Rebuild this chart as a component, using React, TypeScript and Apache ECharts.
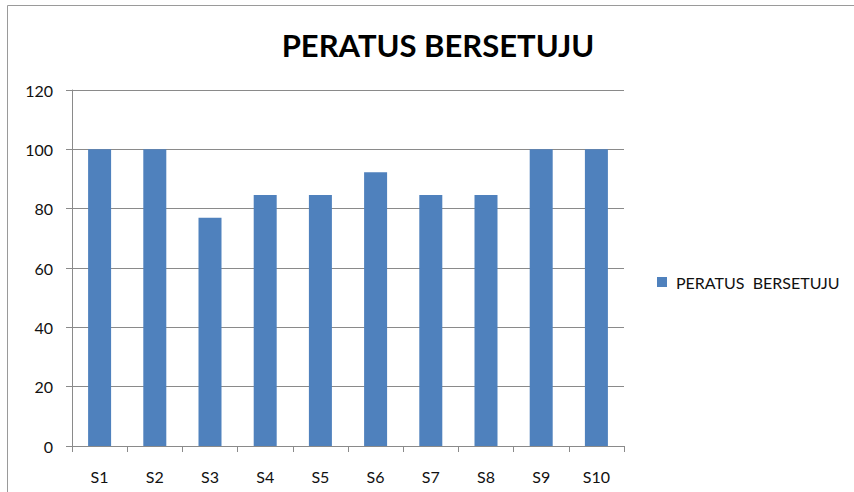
import React, { useEffect, useRef } from "react";
import * as echarts from "echarts";

const titleText = "PERATUS BERSETUJU";
const seriesName = "PERATUS  BERSETUJU";
const categories = ["S1", "S2", "S3", "S4", "S5", "S6", "S7", "S8", "S9", "S10"];
const values = [100, 100, 76.9, 84.6, 84.6, 92.3, 84.6, 84.6, 100, 100];
const yMin = 0;
const yMax = 120;
const yStep = 20;

const FONT = "Lato, 'Open Sans', sans-serif";

export default function App() {
  const ref = useRef<HTMLDivElement>(null);
  useEffect(() => {
    if (!ref.current) return;
    const chart = echarts.init(ref.current, null, { renderer: "svg" });
    chart.setOption({
      animation: false,
      backgroundColor: "#ffffff",
      title: {
        text: titleText,
        left: 438,
        textAlign: "center",
        top: 29,
        padding: 0,
        textStyle: { fontFamily: FONT, fontWeight: "bold", fontSize: 31, color: "#000" },
      },
      legend: {
        orient: "vertical",
        left: 657,
        top: 274,
        padding: 0,
        itemWidth: 10,
        itemHeight: 10,
        itemGap: 6,
        icon: "rect",
        textStyle: { fontFamily: FONT, fontSize: 16, color: "#111", padding: [0, 0, 0, 4] },
        data: [seriesName],
      },
      graphic: [
        {
          type: "rect",
          shape: { x: 7.5, y: 5.5, width: 900, height: 600 },
          style: { fill: "none", stroke: "#9a9a9a", lineWidth: 1 },
          silent: true,
          z: -1,
        },
      ],
      grid: { left: 72, right: 230, top: 90, bottom: 46 },
      xAxis: {
        type: "category",
        data: categories,
        axisLine: { lineStyle: { color: "#8a8a8a", width: 1 } },
        axisTick: { show: true, length: 6, lineStyle: { color: "#8a8a8a" } },
        axisLabel: { fontFamily: FONT, fontSize: 16, color: "#111", margin: 22 },
      },
      yAxis: {
        type: "value",
        min: yMin,
        max: yMax,
        interval: yStep,
        axisLine: { show: true, lineStyle: { color: "#8a8a8a", width: 1 } },
        axisTick: { show: true, length: 6, lineStyle: { color: "#8a8a8a" } },
        axisLabel: { fontFamily: FONT, fontSize: 16, color: "#111", margin: 19 },
        splitLine: { show: true, lineStyle: { color: "#8a8a8a", width: 1 } },
      },
      series: [
        {
          name: seriesName,
          type: "bar",
          data: values,
          barWidth: 23,
          itemStyle: { color: "#4f81bd" },
        },
      ],
    });
    return () => chart.dispose();
  }, []);
  return (
    <div
      ref={ref}
      style={{ position: "absolute", left: 0, top: 0, width: 854, height: 492 }}
    />
  );
}
